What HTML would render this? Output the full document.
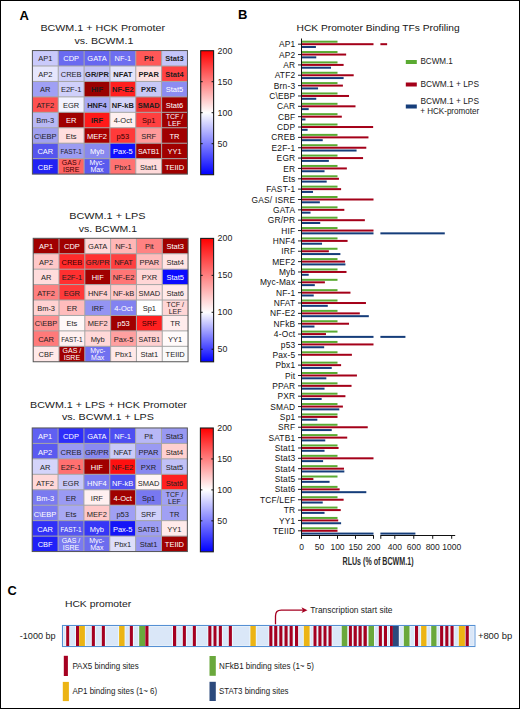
<!DOCTYPE html><html><head><meta charset="utf-8"><style>html,body{margin:0;padding:0;background:#fff;}svg{display:block;}text{font-family:"Liberation Sans", sans-serif;}</style></head><body>
<svg width="520" height="709" viewBox="0 0 520 709">
<defs>
<linearGradient id="g1" x1="0" y1="0" x2="0" y2="1">
<stop offset="0.000" stop-color="rgb(255,0,0)"/>
<stop offset="0.100" stop-color="rgb(255,51,51)"/>
<stop offset="0.200" stop-color="rgb(255,102,102)"/>
<stop offset="0.300" stop-color="rgb(255,153,153)"/>
<stop offset="0.400" stop-color="rgb(255,204,204)"/>
<stop offset="0.500" stop-color="rgb(255,255,255)"/>
<stop offset="0.600" stop-color="rgb(204,204,255)"/>
<stop offset="0.700" stop-color="rgb(153,153,255)"/>
<stop offset="0.800" stop-color="rgb(102,102,255)"/>
<stop offset="0.900" stop-color="rgb(51,51,255)"/>
<stop offset="1.000" stop-color="rgb(0,0,255)"/>
</linearGradient>
<linearGradient id="g2" x1="0" y1="0" x2="0" y2="1">
<stop offset="0.000" stop-color="rgb(255,0,0)"/>
<stop offset="0.100" stop-color="rgb(255,43,43)"/>
<stop offset="0.200" stop-color="rgb(255,85,85)"/>
<stop offset="0.300" stop-color="rgb(255,128,128)"/>
<stop offset="0.400" stop-color="rgb(255,170,170)"/>
<stop offset="0.500" stop-color="rgb(255,213,213)"/>
<stop offset="0.600" stop-color="rgb(254,254,255)"/>
<stop offset="0.700" stop-color="rgb(191,191,255)"/>
<stop offset="0.800" stop-color="rgb(127,127,255)"/>
<stop offset="0.900" stop-color="rgb(64,64,255)"/>
<stop offset="1.000" stop-color="rgb(0,0,255)"/>
</linearGradient>
<linearGradient id="g3" x1="0" y1="0" x2="0" y2="1">
<stop offset="0.000" stop-color="rgb(255,0,0)"/>
<stop offset="0.100" stop-color="rgb(255,51,51)"/>
<stop offset="0.200" stop-color="rgb(255,102,102)"/>
<stop offset="0.300" stop-color="rgb(255,153,153)"/>
<stop offset="0.400" stop-color="rgb(255,204,204)"/>
<stop offset="0.500" stop-color="rgb(255,255,255)"/>
<stop offset="0.600" stop-color="rgb(204,204,255)"/>
<stop offset="0.700" stop-color="rgb(153,153,255)"/>
<stop offset="0.800" stop-color="rgb(102,102,255)"/>
<stop offset="0.900" stop-color="rgb(51,51,255)"/>
<stop offset="1.000" stop-color="rgb(0,0,255)"/>
</linearGradient>
</defs>
<rect x="0" y="0" width="520" height="709" fill="#fff"/>
<text x="19.4" y="19.6" font-size="13" font-weight="bold" fill="#000">A</text>
<text x="237.9" y="18.7" font-size="13" font-weight="bold" fill="#000">B</text>
<text x="7.4" y="595.2" font-size="12.8" font-weight="bold" fill="#000">C</text>
<text x="40.4" y="31.0" font-size="9.3" fill="#1a1a1a" textLength="124.6" lengthAdjust="spacingAndGlyphs">BCWM.1 + HCK Promoter</text>
<text x="74.4" y="44.0" font-size="9.3" fill="#1a1a1a" textLength="58.9" lengthAdjust="spacingAndGlyphs">vs. BCWM.1</text>
<text x="69.3" y="219.0" font-size="9.3" fill="#1a1a1a" textLength="76.2" lengthAdjust="spacingAndGlyphs">BCWM.1 + LPS</text>
<text x="78.8" y="231.7" font-size="9.3" fill="#1a1a1a" textLength="58.3" lengthAdjust="spacingAndGlyphs">vs. BCWM.1</text>
<text x="30.0" y="408.1" font-size="9.3" fill="#1a1a1a" textLength="156.9" lengthAdjust="spacingAndGlyphs">BCWM.1 + LPS + HCK Promoter</text>
<text x="61.9" y="420.2" font-size="9.3" fill="#1a1a1a" textLength="92.0" lengthAdjust="spacingAndGlyphs">vs. BCWM.1 + LPS</text>
<rect x="32.40" y="50.55" width="25.89" height="15.49" fill="#cacafb"/>
<rect x="58.24" y="50.55" width="25.89" height="15.49" fill="#6a6af0"/>
<rect x="84.08" y="50.55" width="25.89" height="15.49" fill="#6666f0"/>
<rect x="109.92" y="50.55" width="25.89" height="15.49" fill="#6e6ef0"/>
<rect x="135.77" y="50.55" width="25.89" height="15.49" fill="#ff5858"/>
<rect x="161.61" y="50.55" width="25.89" height="15.49" fill="#c4c4f8"/>
<rect x="32.40" y="65.99" width="25.89" height="15.49" fill="#e6e6fc"/>
<rect x="58.24" y="65.99" width="25.89" height="15.49" fill="#cfcffa"/>
<rect x="84.08" y="65.99" width="25.89" height="15.49" fill="#c4c4f6"/>
<rect x="109.92" y="65.99" width="25.89" height="15.49" fill="#e4e4fb"/>
<rect x="135.77" y="65.99" width="25.89" height="15.49" fill="#ffe0e0"/>
<rect x="161.61" y="65.99" width="25.89" height="15.49" fill="#ff4242"/>
<rect x="32.40" y="81.44" width="25.89" height="15.49" fill="#a0a0f4"/>
<rect x="58.24" y="81.44" width="25.89" height="15.49" fill="#d0d0fa"/>
<rect x="84.08" y="81.44" width="25.89" height="15.49" fill="#990000"/>
<rect x="109.92" y="81.44" width="25.89" height="15.49" fill="#ff2020"/>
<rect x="135.77" y="81.44" width="25.89" height="15.49" fill="#c8c8f6"/>
<rect x="161.61" y="81.44" width="25.89" height="15.49" fill="#8c8cf2"/>
<rect x="32.40" y="96.88" width="25.89" height="15.49" fill="#ff5050"/>
<rect x="58.24" y="96.88" width="25.89" height="15.49" fill="#f2f2ff"/>
<rect x="84.08" y="96.88" width="25.89" height="15.49" fill="#a8a8f4"/>
<rect x="109.92" y="96.88" width="25.89" height="15.49" fill="#d4d4f8"/>
<rect x="135.77" y="96.88" width="25.89" height="15.49" fill="#f03030"/>
<rect x="161.61" y="96.88" width="25.89" height="15.49" fill="#a00000"/>
<rect x="32.40" y="112.32" width="25.89" height="15.49" fill="#b8b8f4"/>
<rect x="58.24" y="112.32" width="25.89" height="15.49" fill="#a00000"/>
<rect x="84.08" y="112.32" width="25.89" height="15.49" fill="#ff1a1a"/>
<rect x="109.92" y="112.32" width="25.89" height="15.49" fill="#fff0f0"/>
<rect x="135.77" y="112.32" width="25.89" height="15.49" fill="#ff4040"/>
<rect x="161.61" y="112.32" width="25.89" height="15.49" fill="#a00000"/>
<rect x="32.40" y="127.77" width="25.89" height="15.49" fill="#a0a0f0"/>
<rect x="58.24" y="127.77" width="25.89" height="15.49" fill="#ffdede"/>
<rect x="84.08" y="127.77" width="25.89" height="15.49" fill="#a80000"/>
<rect x="109.92" y="127.77" width="25.89" height="15.49" fill="#ff3a3a"/>
<rect x="135.77" y="127.77" width="25.89" height="15.49" fill="#ff9a9a"/>
<rect x="161.61" y="127.77" width="25.89" height="15.49" fill="#a00000"/>
<rect x="32.40" y="143.21" width="25.89" height="15.49" fill="#5555ee"/>
<rect x="58.24" y="143.21" width="25.89" height="15.49" fill="#9c9cf2"/>
<rect x="84.08" y="143.21" width="25.89" height="15.49" fill="#8888ee"/>
<rect x="109.92" y="143.21" width="25.89" height="15.49" fill="#1010ff"/>
<rect x="135.77" y="143.21" width="25.89" height="15.49" fill="#a00000"/>
<rect x="161.61" y="143.21" width="25.89" height="15.49" fill="#a00000"/>
<rect x="32.40" y="158.66" width="25.89" height="15.49" fill="#2222f4"/>
<rect x="58.24" y="158.66" width="25.89" height="15.49" fill="#ff6464"/>
<rect x="84.08" y="158.66" width="25.89" height="15.49" fill="#5a5aee"/>
<rect x="109.92" y="158.66" width="25.89" height="15.49" fill="#ff7272"/>
<rect x="135.77" y="158.66" width="25.89" height="15.49" fill="#ffdada"/>
<rect x="161.61" y="158.66" width="25.89" height="15.49" fill="#a00000"/>
<line x1="58.24" y1="50.55" x2="58.24" y2="174.1" stroke="#a4a4a4" stroke-width="1"/>
<line x1="84.08" y1="50.55" x2="84.08" y2="174.1" stroke="#a4a4a4" stroke-width="1"/>
<line x1="109.92" y1="50.55" x2="109.92" y2="174.1" stroke="#a4a4a4" stroke-width="1"/>
<line x1="135.77" y1="50.55" x2="135.77" y2="174.1" stroke="#a4a4a4" stroke-width="1"/>
<line x1="161.61" y1="50.55" x2="161.61" y2="174.1" stroke="#a4a4a4" stroke-width="1"/>
<line x1="32.4" y1="65.99" x2="187.45" y2="65.99" stroke="#a4a4a4" stroke-width="1"/>
<line x1="32.4" y1="81.44" x2="187.45" y2="81.44" stroke="#a4a4a4" stroke-width="1"/>
<line x1="32.4" y1="96.88" x2="187.45" y2="96.88" stroke="#a4a4a4" stroke-width="1"/>
<line x1="32.4" y1="112.32" x2="187.45" y2="112.32" stroke="#a4a4a4" stroke-width="1"/>
<line x1="32.4" y1="127.77" x2="187.45" y2="127.77" stroke="#a4a4a4" stroke-width="1"/>
<line x1="32.4" y1="143.21" x2="187.45" y2="143.21" stroke="#a4a4a4" stroke-width="1"/>
<line x1="32.4" y1="158.66" x2="187.45" y2="158.66" stroke="#a4a4a4" stroke-width="1"/>
<rect x="32.4" y="50.55" width="155.05" height="123.55" fill="none" stroke="#555" stroke-width="1"/>
<text x="45.32" y="61.47" fill="#1e1e1e" font-size="7.5" text-anchor="middle">AP1</text>
<text x="71.16" y="61.47" fill="#ffffff" font-size="7.5" text-anchor="middle">CDP</text>
<text x="97.00" y="61.47" fill="#ffffff" font-size="7.5" text-anchor="middle">GATA</text>
<text x="122.85" y="61.47" fill="#ffffff" font-size="7.5" text-anchor="middle">NF-1</text>
<text x="148.69" y="61.47" fill="#1e1e1e" font-size="7.5" text-anchor="middle" font-weight="bold">Pit</text>
<text x="174.53" y="61.47" fill="#1e1e1e" font-size="7.5" text-anchor="middle" font-weight="bold">Stat3</text>
<text x="45.32" y="76.92" fill="#1e1e1e" font-size="7.5" text-anchor="middle">AP2</text>
<text x="71.16" y="76.92" fill="#1e1e1e" font-size="7.5" text-anchor="middle">CREB</text>
<text x="97.00" y="76.92" fill="#1e1e1e" font-size="7.5" text-anchor="middle" font-weight="bold">GR/PR</text>
<text x="122.85" y="76.92" fill="#1e1e1e" font-size="7.5" text-anchor="middle" font-weight="bold">NFAT</text>
<text x="148.69" y="76.92" fill="#1e1e1e" font-size="7.5" text-anchor="middle" font-weight="bold">PPAR</text>
<text x="174.53" y="76.92" fill="#1e1e1e" font-size="7.5" text-anchor="middle" font-weight="bold">Stat4</text>
<text x="45.32" y="92.36" fill="#1e1e1e" font-size="7.5" text-anchor="middle">AR</text>
<text x="71.16" y="92.36" fill="#1e1e1e" font-size="7.5" text-anchor="middle">E2F-1</text>
<text x="97.00" y="92.36" fill="#1e1e1e" font-size="7.5" text-anchor="middle" font-weight="bold">HIF</text>
<text x="122.85" y="92.36" fill="#1e1e1e" font-size="7.5" text-anchor="middle" font-weight="bold">NF-E2</text>
<text x="148.69" y="92.36" fill="#1e1e1e" font-size="7.5" text-anchor="middle" font-weight="bold">PXR</text>
<text x="174.53" y="92.36" fill="#ffffff" font-size="7.5" text-anchor="middle">Stat5</text>
<text x="45.32" y="107.80" fill="#1e1e1e" font-size="7.5" text-anchor="middle">ATF2</text>
<text x="71.16" y="107.80" fill="#1e1e1e" font-size="7.5" text-anchor="middle">EGR</text>
<text x="97.00" y="107.80" fill="#1e1e1e" font-size="7.5" text-anchor="middle" font-weight="bold">HNF4</text>
<text x="122.85" y="107.80" fill="#1e1e1e" font-size="7.5" text-anchor="middle" font-weight="bold">NF-kB</text>
<text x="148.69" y="107.80" fill="#1e1e1e" font-size="7.5" text-anchor="middle" font-weight="bold">SMAD</text>
<text x="174.53" y="107.80" fill="#ffffff" font-size="7.5" text-anchor="middle">Stat6</text>
<text x="45.32" y="123.25" fill="#1e1e1e" font-size="7.5" text-anchor="middle">Bm-3</text>
<text x="71.16" y="123.25" fill="#ffffff" font-size="7.5" text-anchor="middle">ER</text>
<text x="97.00" y="123.25" fill="#1e1e1e" font-size="7.5" text-anchor="middle" font-weight="bold">IRF</text>
<text x="122.85" y="123.25" fill="#1e1e1e" font-size="7.5" text-anchor="middle">4-Oct</text>
<text x="148.69" y="123.25" fill="#3a0000" font-size="7.5" text-anchor="middle">Sp1</text>
<text x="174.53" y="119.05" fill="#ffffff" font-size="7" text-anchor="middle">TCF / </text>
<text x="174.53" y="126.05" fill="#ffffff" font-size="7" text-anchor="middle">LEF</text>
<text x="45.32" y="138.69" fill="#1e1e1e" font-size="7.5" text-anchor="middle">C\EBP</text>
<text x="71.16" y="138.69" fill="#1e1e1e" font-size="7.5" text-anchor="middle">Ets</text>
<text x="97.00" y="138.69" fill="#ffffff" font-size="7.5" text-anchor="middle">MEF2</text>
<text x="122.85" y="138.69" fill="#3a0000" font-size="7.5" text-anchor="middle">p53</text>
<text x="148.69" y="138.69" fill="#1e1e1e" font-size="7.5" text-anchor="middle">SRF</text>
<text x="174.53" y="138.69" fill="#ffffff" font-size="7.5" text-anchor="middle">TR</text>
<text x="45.32" y="154.13" fill="#ffffff" font-size="7.5" text-anchor="middle">CAR</text>
<text x="71.16" y="154.13" fill="#1e1e1e" font-size="7.5" text-anchor="middle" textLength="21.2" lengthAdjust="spacingAndGlyphs">FAST-1</text>
<text x="97.00" y="154.13" fill="#ffffff" font-size="7.5" text-anchor="middle">Myb</text>
<text x="122.85" y="154.13" fill="#ffffff" font-size="7.5" text-anchor="middle">Pax-5</text>
<text x="148.69" y="154.13" fill="#ffffff" font-size="7.5" text-anchor="middle" textLength="21.6" lengthAdjust="spacingAndGlyphs">SATB1</text>
<text x="174.53" y="154.13" fill="#ffffff" font-size="7.5" text-anchor="middle">YY1</text>
<text x="45.32" y="169.58" fill="#ffffff" font-size="7.5" text-anchor="middle">CBF</text>
<text x="71.16" y="165.38" fill="#3a0000" font-size="7" text-anchor="middle">GAS / </text>
<text x="71.16" y="172.38" fill="#3a0000" font-size="7" text-anchor="middle">ISRE</text>
<text x="97.00" y="165.38" fill="#ffffff" font-size="7" text-anchor="middle">Myc-</text>
<text x="97.00" y="172.38" fill="#ffffff" font-size="7" text-anchor="middle">Max</text>
<text x="122.85" y="169.58" fill="#1e1e1e" font-size="7.5" text-anchor="middle">Pbx1</text>
<text x="148.69" y="169.58" fill="#1e1e1e" font-size="7.5" text-anchor="middle">Stat1</text>
<text x="174.53" y="169.58" fill="#ffffff" font-size="7.5" text-anchor="middle">TEIID</text>
<rect x="33.20" y="238.30" width="25.86" height="15.48" fill="#a00000"/>
<rect x="59.01" y="238.30" width="25.86" height="15.48" fill="#a00000"/>
<rect x="84.82" y="238.30" width="25.86" height="15.48" fill="#ffd8d8"/>
<rect x="110.63" y="238.30" width="25.86" height="15.48" fill="#ffb6b6"/>
<rect x="136.43" y="238.30" width="25.86" height="15.48" fill="#ff8282"/>
<rect x="162.24" y="238.30" width="25.86" height="15.48" fill="#a00000"/>
<rect x="33.20" y="253.73" width="25.86" height="15.48" fill="#ffc8c8"/>
<rect x="59.01" y="253.73" width="25.86" height="15.48" fill="#ff2a2a"/>
<rect x="84.82" y="253.73" width="25.86" height="15.48" fill="#ff3030"/>
<rect x="110.63" y="253.73" width="25.86" height="15.48" fill="#ff4040"/>
<rect x="136.43" y="253.73" width="25.86" height="15.48" fill="#ffbcbc"/>
<rect x="162.24" y="253.73" width="25.86" height="15.48" fill="#ffe4e4"/>
<rect x="33.20" y="269.16" width="25.86" height="15.48" fill="#ffdcdc"/>
<rect x="59.01" y="269.16" width="25.86" height="15.48" fill="#ff3030"/>
<rect x="84.82" y="269.16" width="25.86" height="15.48" fill="#a00000"/>
<rect x="110.63" y="269.16" width="25.86" height="15.48" fill="#ff7676"/>
<rect x="136.43" y="269.16" width="25.86" height="15.48" fill="#ffd6d6"/>
<rect x="162.24" y="269.16" width="25.86" height="15.48" fill="#0a0aff"/>
<rect x="33.20" y="284.59" width="25.86" height="15.48" fill="#ff8080"/>
<rect x="59.01" y="284.59" width="25.86" height="15.48" fill="#ff3a3a"/>
<rect x="84.82" y="284.59" width="25.86" height="15.48" fill="#ffd0d0"/>
<rect x="110.63" y="284.59" width="25.86" height="15.48" fill="#ffc8c8"/>
<rect x="136.43" y="284.59" width="25.86" height="15.48" fill="#ffe0e0"/>
<rect x="162.24" y="284.59" width="25.86" height="15.48" fill="#ffeaea"/>
<rect x="33.20" y="300.02" width="25.86" height="15.48" fill="#ffd2d2"/>
<rect x="59.01" y="300.02" width="25.86" height="15.48" fill="#ffbcbc"/>
<rect x="84.82" y="300.02" width="25.86" height="15.48" fill="#9494f2"/>
<rect x="110.63" y="300.02" width="25.86" height="15.48" fill="#8282f0"/>
<rect x="136.43" y="300.02" width="25.86" height="15.48" fill="#ffffff"/>
<rect x="162.24" y="300.02" width="25.86" height="15.48" fill="#ffd6d6"/>
<rect x="33.20" y="315.46" width="25.86" height="15.48" fill="#ff9090"/>
<rect x="59.01" y="315.46" width="25.86" height="15.48" fill="#fff8f8"/>
<rect x="84.82" y="315.46" width="25.86" height="15.48" fill="#ffc8c8"/>
<rect x="110.63" y="315.46" width="25.86" height="15.48" fill="#a00000"/>
<rect x="136.43" y="315.46" width="25.86" height="15.48" fill="#ff2020"/>
<rect x="162.24" y="315.46" width="25.86" height="15.48" fill="#ffecec"/>
<rect x="33.20" y="330.89" width="25.86" height="15.48" fill="#ff7a7a"/>
<rect x="59.01" y="330.89" width="25.86" height="15.48" fill="#fff0f0"/>
<rect x="84.82" y="330.89" width="25.86" height="15.48" fill="#ffd8d8"/>
<rect x="110.63" y="330.89" width="25.86" height="15.48" fill="#ffa0a0"/>
<rect x="136.43" y="330.89" width="25.86" height="15.48" fill="#ffd0d0"/>
<rect x="162.24" y="330.89" width="25.86" height="15.48" fill="#fffafa"/>
<rect x="33.20" y="346.32" width="25.86" height="15.48" fill="#ffe8e8"/>
<rect x="59.01" y="346.32" width="25.86" height="15.48" fill="#a00000"/>
<rect x="84.82" y="346.32" width="25.86" height="15.48" fill="#7070f0"/>
<rect x="110.63" y="346.32" width="25.86" height="15.48" fill="#ffe8e8"/>
<rect x="136.43" y="346.32" width="25.86" height="15.48" fill="#fff4f4"/>
<rect x="162.24" y="346.32" width="25.86" height="15.48" fill="#fafafa"/>
<line x1="59.01" y1="238.3" x2="59.01" y2="361.75" stroke="#a4a4a4" stroke-width="1"/>
<line x1="84.82" y1="238.3" x2="84.82" y2="361.75" stroke="#a4a4a4" stroke-width="1"/>
<line x1="110.63" y1="238.3" x2="110.63" y2="361.75" stroke="#a4a4a4" stroke-width="1"/>
<line x1="136.43" y1="238.3" x2="136.43" y2="361.75" stroke="#a4a4a4" stroke-width="1"/>
<line x1="162.24" y1="238.3" x2="162.24" y2="361.75" stroke="#a4a4a4" stroke-width="1"/>
<line x1="33.2" y1="253.73" x2="188.05" y2="253.73" stroke="#a4a4a4" stroke-width="1"/>
<line x1="33.2" y1="269.16" x2="188.05" y2="269.16" stroke="#a4a4a4" stroke-width="1"/>
<line x1="33.2" y1="284.59" x2="188.05" y2="284.59" stroke="#a4a4a4" stroke-width="1"/>
<line x1="33.2" y1="300.02" x2="188.05" y2="300.02" stroke="#a4a4a4" stroke-width="1"/>
<line x1="33.2" y1="315.46" x2="188.05" y2="315.46" stroke="#a4a4a4" stroke-width="1"/>
<line x1="33.2" y1="330.89" x2="188.05" y2="330.89" stroke="#a4a4a4" stroke-width="1"/>
<line x1="33.2" y1="346.32" x2="188.05" y2="346.32" stroke="#a4a4a4" stroke-width="1"/>
<rect x="33.2" y="238.3" width="154.85" height="123.45" fill="none" stroke="#555" stroke-width="1"/>
<text x="46.10" y="249.32" fill="#ffffff" font-size="7.5" text-anchor="middle">AP1</text>
<text x="71.91" y="249.32" fill="#ffffff" font-size="7.5" text-anchor="middle">CDP</text>
<text x="97.72" y="249.32" fill="#1e1e1e" font-size="7.5" text-anchor="middle">GATA</text>
<text x="123.53" y="249.32" fill="#1e1e1e" font-size="7.5" text-anchor="middle">NF-1</text>
<text x="149.34" y="249.32" fill="#1e1e1e" font-size="7.5" text-anchor="middle">Pit</text>
<text x="175.15" y="249.32" fill="#ffffff" font-size="7.5" text-anchor="middle">Stat3</text>
<text x="46.10" y="264.75" fill="#1e1e1e" font-size="7.5" text-anchor="middle">AP2</text>
<text x="71.91" y="264.75" fill="#3a0000" font-size="7.5" text-anchor="middle">CREB</text>
<text x="97.72" y="264.75" fill="#1e1e1e" font-size="7.5" text-anchor="middle">GR/PR</text>
<text x="123.53" y="264.75" fill="#1e1e1e" font-size="7.5" text-anchor="middle">NFAT</text>
<text x="149.34" y="264.75" fill="#1e1e1e" font-size="7.5" text-anchor="middle">PPAR</text>
<text x="175.15" y="264.75" fill="#1e1e1e" font-size="7.5" text-anchor="middle">Stat4</text>
<text x="46.10" y="280.18" fill="#1e1e1e" font-size="7.5" text-anchor="middle">AR</text>
<text x="71.91" y="280.18" fill="#1e1e1e" font-size="7.5" text-anchor="middle">E2F-1</text>
<text x="97.72" y="280.18" fill="#ffffff" font-size="7.5" text-anchor="middle">HIF</text>
<text x="123.53" y="280.18" fill="#1e1e1e" font-size="7.5" text-anchor="middle">NF-E2</text>
<text x="149.34" y="280.18" fill="#1e1e1e" font-size="7.5" text-anchor="middle">PXR</text>
<text x="175.15" y="280.18" fill="#ffffff" font-size="7.5" text-anchor="middle">Stat5</text>
<text x="46.10" y="295.61" fill="#1e1e1e" font-size="7.5" text-anchor="middle">ATF2</text>
<text x="71.91" y="295.61" fill="#1e1e1e" font-size="7.5" text-anchor="middle">EGR</text>
<text x="97.72" y="295.61" fill="#1e1e1e" font-size="7.5" text-anchor="middle">HNF4</text>
<text x="123.53" y="295.61" fill="#1e1e1e" font-size="7.5" text-anchor="middle">NF-kB</text>
<text x="149.34" y="295.61" fill="#1e1e1e" font-size="7.5" text-anchor="middle">SMAD</text>
<text x="175.15" y="295.61" fill="#1e1e1e" font-size="7.5" text-anchor="middle">Stat6</text>
<text x="46.10" y="311.04" fill="#1e1e1e" font-size="7.5" text-anchor="middle">Bm-3</text>
<text x="71.91" y="311.04" fill="#1e1e1e" font-size="7.5" text-anchor="middle">ER</text>
<text x="97.72" y="311.04" fill="#1e1e1e" font-size="7.5" text-anchor="middle">IRF</text>
<text x="123.53" y="311.04" fill="#ffffff" font-size="7.5" text-anchor="middle">4-Oct</text>
<text x="149.34" y="311.04" fill="#1e1e1e" font-size="7.5" text-anchor="middle">Sp1</text>
<text x="175.15" y="306.84" fill="#1e1e1e" font-size="7" text-anchor="middle">TCF / </text>
<text x="175.15" y="313.84" fill="#1e1e1e" font-size="7" text-anchor="middle">LEF</text>
<text x="46.10" y="326.47" fill="#1e1e1e" font-size="7.5" text-anchor="middle">C\EBP</text>
<text x="71.91" y="326.47" fill="#1e1e1e" font-size="7.5" text-anchor="middle">Ets</text>
<text x="97.72" y="326.47" fill="#1e1e1e" font-size="7.5" text-anchor="middle">MEF2</text>
<text x="123.53" y="326.47" fill="#ffffff" font-size="7.5" text-anchor="middle">p53</text>
<text x="149.34" y="326.47" fill="#3a0000" font-size="7.5" text-anchor="middle">SRF</text>
<text x="175.15" y="326.47" fill="#1e1e1e" font-size="7.5" text-anchor="middle">TR</text>
<text x="46.10" y="341.90" fill="#1e1e1e" font-size="7.5" text-anchor="middle">CAR</text>
<text x="71.91" y="341.90" fill="#1e1e1e" font-size="7.5" text-anchor="middle" textLength="21.2" lengthAdjust="spacingAndGlyphs">FAST-1</text>
<text x="97.72" y="341.90" fill="#1e1e1e" font-size="7.5" text-anchor="middle">Myb</text>
<text x="123.53" y="341.90" fill="#1e1e1e" font-size="7.5" text-anchor="middle">Pax-5</text>
<text x="149.34" y="341.90" fill="#1e1e1e" font-size="7.5" text-anchor="middle" textLength="21.6" lengthAdjust="spacingAndGlyphs">SATB1</text>
<text x="175.15" y="341.90" fill="#1e1e1e" font-size="7.5" text-anchor="middle">YY1</text>
<text x="46.10" y="357.33" fill="#1e1e1e" font-size="7.5" text-anchor="middle">CBF</text>
<text x="71.91" y="353.13" fill="#ffffff" font-size="7" text-anchor="middle">GAS / </text>
<text x="71.91" y="360.13" fill="#ffffff" font-size="7" text-anchor="middle">ISRE</text>
<text x="97.72" y="353.13" fill="#ffffff" font-size="7" text-anchor="middle">Myc-</text>
<text x="97.72" y="360.13" fill="#ffffff" font-size="7" text-anchor="middle">Max</text>
<text x="123.53" y="357.33" fill="#1e1e1e" font-size="7.5" text-anchor="middle">Pbx1</text>
<text x="149.34" y="357.33" fill="#1e1e1e" font-size="7.5" text-anchor="middle">Stat1</text>
<text x="175.15" y="357.33" fill="#1e1e1e" font-size="7.5" text-anchor="middle">TEIID</text>
<rect x="32.20" y="427.95" width="25.91" height="15.50" fill="#6060f2"/>
<rect x="58.06" y="427.95" width="25.91" height="15.50" fill="#2e2efa"/>
<rect x="83.92" y="427.95" width="25.91" height="15.50" fill="#3e3ef4"/>
<rect x="109.77" y="427.95" width="25.91" height="15.50" fill="#4e4ef2"/>
<rect x="135.63" y="427.95" width="25.91" height="15.50" fill="#b8b8f6"/>
<rect x="161.49" y="427.95" width="25.91" height="15.50" fill="#9898f2"/>
<rect x="32.20" y="443.40" width="25.91" height="15.50" fill="#5a5af0"/>
<rect x="58.06" y="443.40" width="25.91" height="15.50" fill="#9a9af2"/>
<rect x="83.92" y="443.40" width="25.91" height="15.50" fill="#8a8af0"/>
<rect x="109.77" y="443.40" width="25.91" height="15.50" fill="#cacaf8"/>
<rect x="135.63" y="443.40" width="25.91" height="15.50" fill="#9a9af2"/>
<rect x="161.49" y="443.40" width="25.91" height="15.50" fill="#ffd0d0"/>
<rect x="32.20" y="458.85" width="25.91" height="15.50" fill="#d4d4fa"/>
<rect x="58.06" y="458.85" width="25.91" height="15.50" fill="#ff7070"/>
<rect x="83.92" y="458.85" width="25.91" height="15.50" fill="#a00000"/>
<rect x="109.77" y="458.85" width="25.91" height="15.50" fill="#ff1010"/>
<rect x="135.63" y="458.85" width="25.91" height="15.50" fill="#8888f0"/>
<rect x="161.49" y="458.85" width="25.91" height="15.50" fill="#c0c0f6"/>
<rect x="32.20" y="474.30" width="25.91" height="15.50" fill="#ffd8d8"/>
<rect x="58.06" y="474.30" width="25.91" height="15.50" fill="#c8c8f8"/>
<rect x="83.92" y="474.30" width="25.91" height="15.50" fill="#7a7af0"/>
<rect x="109.77" y="474.30" width="25.91" height="15.50" fill="#5050f0"/>
<rect x="135.63" y="474.30" width="25.91" height="15.50" fill="#fff4f4"/>
<rect x="161.49" y="474.30" width="25.91" height="15.50" fill="#ff2020"/>
<rect x="32.20" y="489.75" width="25.91" height="15.50" fill="#7a7af0"/>
<rect x="58.06" y="489.75" width="25.91" height="15.50" fill="#9a9af4"/>
<rect x="83.92" y="489.75" width="25.91" height="15.50" fill="#fff0f0"/>
<rect x="109.77" y="489.75" width="25.91" height="15.50" fill="#a00000"/>
<rect x="135.63" y="489.75" width="25.91" height="15.50" fill="#7878f0"/>
<rect x="161.49" y="489.75" width="25.91" height="15.50" fill="#a0a0f4"/>
<rect x="32.20" y="505.20" width="25.91" height="15.50" fill="#7a7af0"/>
<rect x="58.06" y="505.20" width="25.91" height="15.50" fill="#a8a8f4"/>
<rect x="83.92" y="505.20" width="25.91" height="15.50" fill="#ffc8c8"/>
<rect x="109.77" y="505.20" width="25.91" height="15.50" fill="#a0a0f4"/>
<rect x="135.63" y="505.20" width="25.91" height="15.50" fill="#d0d0fa"/>
<rect x="161.49" y="505.20" width="25.91" height="15.50" fill="#a0a0f4"/>
<rect x="32.20" y="520.65" width="25.91" height="15.50" fill="#3030f8"/>
<rect x="58.06" y="520.65" width="25.91" height="15.50" fill="#5656f0"/>
<rect x="83.92" y="520.65" width="25.91" height="15.50" fill="#3636f6"/>
<rect x="109.77" y="520.65" width="25.91" height="15.50" fill="#1414f8"/>
<rect x="135.63" y="520.65" width="25.91" height="15.50" fill="#9e9ef4"/>
<rect x="161.49" y="520.65" width="25.91" height="15.50" fill="#ffeaea"/>
<rect x="32.20" y="536.10" width="25.91" height="15.50" fill="#2020f8"/>
<rect x="58.06" y="536.10" width="25.91" height="15.50" fill="#7a7af0"/>
<rect x="83.92" y="536.10" width="25.91" height="15.50" fill="#6c6cee"/>
<rect x="109.77" y="536.10" width="25.91" height="15.50" fill="#dedefa"/>
<rect x="135.63" y="536.10" width="25.91" height="15.50" fill="#9696f2"/>
<rect x="161.49" y="536.10" width="25.91" height="15.50" fill="#a00000"/>
<line x1="58.06" y1="427.95" x2="58.06" y2="551.55" stroke="#a4a4a4" stroke-width="1"/>
<line x1="83.92" y1="427.95" x2="83.92" y2="551.55" stroke="#a4a4a4" stroke-width="1"/>
<line x1="109.77" y1="427.95" x2="109.77" y2="551.55" stroke="#a4a4a4" stroke-width="1"/>
<line x1="135.63" y1="427.95" x2="135.63" y2="551.55" stroke="#a4a4a4" stroke-width="1"/>
<line x1="161.49" y1="427.95" x2="161.49" y2="551.55" stroke="#a4a4a4" stroke-width="1"/>
<line x1="32.2" y1="443.40" x2="187.35" y2="443.40" stroke="#a4a4a4" stroke-width="1"/>
<line x1="32.2" y1="458.85" x2="187.35" y2="458.85" stroke="#a4a4a4" stroke-width="1"/>
<line x1="32.2" y1="474.30" x2="187.35" y2="474.30" stroke="#a4a4a4" stroke-width="1"/>
<line x1="32.2" y1="489.75" x2="187.35" y2="489.75" stroke="#a4a4a4" stroke-width="1"/>
<line x1="32.2" y1="505.20" x2="187.35" y2="505.20" stroke="#a4a4a4" stroke-width="1"/>
<line x1="32.2" y1="520.65" x2="187.35" y2="520.65" stroke="#a4a4a4" stroke-width="1"/>
<line x1="32.2" y1="536.10" x2="187.35" y2="536.10" stroke="#a4a4a4" stroke-width="1"/>
<rect x="32.2" y="427.95" width="155.15" height="123.60" fill="none" stroke="#555" stroke-width="1"/>
<text x="45.13" y="439.27" fill="#ffffff" font-size="7.5" text-anchor="middle">AP1</text>
<text x="70.99" y="439.27" fill="#ffffff" font-size="7.5" text-anchor="middle">CDP</text>
<text x="96.85" y="439.27" fill="#ffffff" font-size="7.5" text-anchor="middle">GATA</text>
<text x="122.70" y="439.27" fill="#ffffff" font-size="7.5" text-anchor="middle">NF-1</text>
<text x="148.56" y="439.27" fill="#1e1e1e" font-size="7.5" text-anchor="middle">Pit</text>
<text x="174.42" y="439.27" fill="#1e1e1e" font-size="7.5" text-anchor="middle">Stat3</text>
<text x="45.13" y="454.72" fill="#ffffff" font-size="7.5" text-anchor="middle">AP2</text>
<text x="70.99" y="454.72" fill="#1e1e1e" font-size="7.5" text-anchor="middle">CREB</text>
<text x="96.85" y="454.72" fill="#1e1e1e" font-size="7.5" text-anchor="middle">GR/PR</text>
<text x="122.70" y="454.72" fill="#1e1e1e" font-size="7.5" text-anchor="middle">NFAT</text>
<text x="148.56" y="454.72" fill="#1e1e1e" font-size="7.5" text-anchor="middle">PPAR</text>
<text x="174.42" y="454.72" fill="#1e1e1e" font-size="7.5" text-anchor="middle">Stat4</text>
<text x="45.13" y="470.17" fill="#1e1e1e" font-size="7.5" text-anchor="middle">AR</text>
<text x="70.99" y="470.17" fill="#1e1e1e" font-size="7.5" text-anchor="middle">E2F-1</text>
<text x="96.85" y="470.17" fill="#ffffff" font-size="7.5" text-anchor="middle">HIF</text>
<text x="122.70" y="470.17" fill="#1e1e1e" font-size="7.5" text-anchor="middle">NF-E2</text>
<text x="148.56" y="470.17" fill="#1e1e1e" font-size="7.5" text-anchor="middle">PXR</text>
<text x="174.42" y="470.17" fill="#1e1e1e" font-size="7.5" text-anchor="middle">Stat5</text>
<text x="45.13" y="485.62" fill="#1e1e1e" font-size="7.5" text-anchor="middle">ATF2</text>
<text x="70.99" y="485.62" fill="#1e1e1e" font-size="7.5" text-anchor="middle">EGR</text>
<text x="96.85" y="485.62" fill="#ffffff" font-size="7.5" text-anchor="middle">HNF4</text>
<text x="122.70" y="485.62" fill="#ffffff" font-size="7.5" text-anchor="middle">NF-kB</text>
<text x="148.56" y="485.62" fill="#1e1e1e" font-size="7.5" text-anchor="middle">SMAD</text>
<text x="174.42" y="485.62" fill="#1e1e1e" font-size="7.5" text-anchor="middle">Stat6</text>
<text x="45.13" y="501.07" fill="#ffffff" font-size="7.5" text-anchor="middle">Bm-3</text>
<text x="70.99" y="501.07" fill="#1e1e1e" font-size="7.5" text-anchor="middle">ER</text>
<text x="96.85" y="501.07" fill="#1e1e1e" font-size="7.5" text-anchor="middle">IRF</text>
<text x="122.70" y="501.07" fill="#ffffff" font-size="7.5" text-anchor="middle">4-Oct</text>
<text x="148.56" y="501.07" fill="#1e1e1e" font-size="7.5" text-anchor="middle">Sp1</text>
<text x="174.42" y="496.88" fill="#1e1e1e" font-size="7" text-anchor="middle">TCF / </text>
<text x="174.42" y="503.88" fill="#1e1e1e" font-size="7" text-anchor="middle">LEF</text>
<text x="45.13" y="516.52" fill="#ffffff" font-size="7.5" text-anchor="middle">C\EBP</text>
<text x="70.99" y="516.52" fill="#1e1e1e" font-size="7.5" text-anchor="middle">Ets</text>
<text x="96.85" y="516.52" fill="#1e1e1e" font-size="7.5" text-anchor="middle">MEF2</text>
<text x="122.70" y="516.52" fill="#1e1e1e" font-size="7.5" text-anchor="middle">p53</text>
<text x="148.56" y="516.52" fill="#1e1e1e" font-size="7.5" text-anchor="middle">SRF</text>
<text x="174.42" y="516.52" fill="#1e1e1e" font-size="7.5" text-anchor="middle">TR</text>
<text x="45.13" y="531.98" fill="#ffffff" font-size="7.5" text-anchor="middle">CAR</text>
<text x="70.99" y="531.98" fill="#ffffff" font-size="7.5" text-anchor="middle" textLength="21.2" lengthAdjust="spacingAndGlyphs">FAST-1</text>
<text x="96.85" y="531.98" fill="#ffffff" font-size="7.5" text-anchor="middle">Myb</text>
<text x="122.70" y="531.98" fill="#ffffff" font-size="7.5" text-anchor="middle">Pax-5</text>
<text x="148.56" y="531.98" fill="#1e1e1e" font-size="7.5" text-anchor="middle" textLength="21.6" lengthAdjust="spacingAndGlyphs">SATB1</text>
<text x="174.42" y="531.98" fill="#1e1e1e" font-size="7.5" text-anchor="middle">YY1</text>
<text x="45.13" y="547.42" fill="#ffffff" font-size="7.5" text-anchor="middle">CBF</text>
<text x="70.99" y="543.22" fill="#ffffff" font-size="7" text-anchor="middle">GAS / </text>
<text x="70.99" y="550.22" fill="#ffffff" font-size="7" text-anchor="middle">ISRE</text>
<text x="96.85" y="543.22" fill="#ffffff" font-size="7" text-anchor="middle">Myc-</text>
<text x="96.85" y="550.22" fill="#ffffff" font-size="7" text-anchor="middle">Max</text>
<text x="122.70" y="547.42" fill="#1e1e1e" font-size="7.5" text-anchor="middle">Pbx1</text>
<text x="148.56" y="547.42" fill="#1e1e1e" font-size="7.5" text-anchor="middle">Stat1</text>
<text x="174.42" y="547.42" fill="#ffffff" font-size="7.5" text-anchor="middle">TEIID</text>
<rect x="200.7" y="50.7" width="12.9" height="124.0" fill="url(#g1)" stroke="#1a1a1a" stroke-width="1.1"/>
<text x="217.6" y="53.70" font-size="8.8" fill="#222">200</text>
<line x1="200.7" y1="81.70" x2="202.7" y2="81.70" stroke="#111" stroke-width="1"/>
<line x1="211.6" y1="81.70" x2="213.6" y2="81.70" stroke="#111" stroke-width="1"/>
<text x="217.6" y="84.70" font-size="8.8" fill="#222">150</text>
<line x1="200.7" y1="112.70" x2="202.7" y2="112.70" stroke="#111" stroke-width="1"/>
<line x1="211.6" y1="112.70" x2="213.6" y2="112.70" stroke="#111" stroke-width="1"/>
<text x="217.6" y="115.70" font-size="8.8" fill="#222">100</text>
<line x1="200.7" y1="143.70" x2="202.7" y2="143.70" stroke="#111" stroke-width="1"/>
<line x1="211.6" y1="143.70" x2="213.6" y2="143.70" stroke="#111" stroke-width="1"/>
<text x="217.6" y="146.70" font-size="8.8" fill="#222">50</text>
<rect x="200.7" y="238.4" width="12.9" height="123.4" fill="url(#g2)" stroke="#1a1a1a" stroke-width="1.1"/>
<text x="217.6" y="241.40" font-size="8.8" fill="#222">200</text>
<line x1="200.7" y1="275.35" x2="202.7" y2="275.35" stroke="#111" stroke-width="1"/>
<line x1="211.6" y1="275.35" x2="213.6" y2="275.35" stroke="#111" stroke-width="1"/>
<text x="217.6" y="278.35" font-size="8.8" fill="#222">150</text>
<line x1="200.7" y1="312.29" x2="202.7" y2="312.29" stroke="#111" stroke-width="1"/>
<line x1="211.6" y1="312.29" x2="213.6" y2="312.29" stroke="#111" stroke-width="1"/>
<text x="217.6" y="315.29" font-size="8.8" fill="#222">100</text>
<line x1="200.7" y1="349.24" x2="202.7" y2="349.24" stroke="#111" stroke-width="1"/>
<line x1="211.6" y1="349.24" x2="213.6" y2="349.24" stroke="#111" stroke-width="1"/>
<text x="217.6" y="352.24" font-size="8.8" fill="#222">50</text>
<rect x="200.4" y="428.0" width="12.9" height="123.8" fill="url(#g3)" stroke="#1a1a1a" stroke-width="1.1"/>
<text x="217.3" y="431.00" font-size="8.8" fill="#222">200</text>
<line x1="200.4" y1="458.95" x2="202.4" y2="458.95" stroke="#111" stroke-width="1"/>
<line x1="211.3" y1="458.95" x2="213.3" y2="458.95" stroke="#111" stroke-width="1"/>
<text x="217.3" y="461.95" font-size="8.8" fill="#222">150</text>
<line x1="200.4" y1="489.90" x2="202.4" y2="489.90" stroke="#111" stroke-width="1"/>
<line x1="211.3" y1="489.90" x2="213.3" y2="489.90" stroke="#111" stroke-width="1"/>
<text x="217.3" y="492.90" font-size="8.8" fill="#222">100</text>
<line x1="200.4" y1="520.85" x2="202.4" y2="520.85" stroke="#111" stroke-width="1"/>
<line x1="211.3" y1="520.85" x2="213.3" y2="520.85" stroke="#111" stroke-width="1"/>
<text x="217.3" y="523.85" font-size="8.8" fill="#222">50</text>
<rect x="301.5" y="40.70" width="36.00" height="2" fill="#5aaa32"/>
<rect x="301.5" y="43.20" width="72.00" height="2" fill="#a40019"/>
<rect x="380.4" y="43.20" width="6.72" height="2" fill="#a40019"/>
<rect x="301.5" y="46.00" width="14.40" height="2" fill="#153d7a"/>
<line x1="298" y1="44.20" x2="301.5" y2="44.20" stroke="#111" stroke-width="0.9"/>
<text x="295.4" y="47.30" font-size="8.4" fill="#111" text-anchor="end" letter-spacing="0.22">AP1</text>
<rect x="301.5" y="51.05" width="36.00" height="2" fill="#5aaa32"/>
<rect x="301.5" y="53.55" width="44.64" height="2" fill="#a40019"/>
<rect x="301.5" y="56.35" width="14.76" height="2" fill="#153d7a"/>
<line x1="298" y1="54.55" x2="301.5" y2="54.55" stroke="#111" stroke-width="0.9"/>
<text x="295.4" y="57.65" font-size="8.4" fill="#111" text-anchor="end" letter-spacing="0.22">AP2</text>
<rect x="301.5" y="61.41" width="36.00" height="2" fill="#5aaa32"/>
<rect x="301.5" y="63.91" width="42.12" height="2" fill="#a40019"/>
<rect x="301.5" y="66.71" width="29.52" height="2" fill="#153d7a"/>
<line x1="298" y1="64.91" x2="301.5" y2="64.91" stroke="#111" stroke-width="0.9"/>
<text x="295.4" y="68.01" font-size="8.4" fill="#111" text-anchor="end" letter-spacing="0.22">AR</text>
<rect x="301.5" y="71.76" width="36.00" height="2" fill="#5aaa32"/>
<rect x="301.5" y="74.26" width="52.20" height="2" fill="#a40019"/>
<rect x="301.5" y="77.06" width="42.12" height="2" fill="#153d7a"/>
<line x1="298" y1="75.26" x2="301.5" y2="75.26" stroke="#111" stroke-width="0.9"/>
<text x="295.4" y="78.36" font-size="8.4" fill="#111" text-anchor="end" letter-spacing="0.22">ATF2</text>
<rect x="301.5" y="82.11" width="36.00" height="2" fill="#5aaa32"/>
<rect x="301.5" y="84.61" width="41.40" height="2" fill="#a40019"/>
<rect x="301.5" y="87.41" width="16.56" height="2" fill="#153d7a"/>
<line x1="298" y1="85.61" x2="301.5" y2="85.61" stroke="#111" stroke-width="0.9"/>
<text x="295.4" y="88.71" font-size="8.4" fill="#111" text-anchor="end" letter-spacing="0.22">Brn-3</text>
<rect x="301.5" y="92.47" width="36.00" height="2" fill="#5aaa32"/>
<rect x="301.5" y="94.97" width="47.52" height="2" fill="#a40019"/>
<rect x="301.5" y="97.77" width="14.76" height="2" fill="#153d7a"/>
<line x1="298" y1="95.97" x2="301.5" y2="95.97" stroke="#111" stroke-width="0.9"/>
<text x="295.4" y="99.06" font-size="8.4" fill="#111" text-anchor="end" letter-spacing="0.22">C\EBP</text>
<rect x="301.5" y="102.82" width="36.00" height="2" fill="#5aaa32"/>
<rect x="301.5" y="105.32" width="54.00" height="2" fill="#a40019"/>
<rect x="301.5" y="108.12" width="7.20" height="2" fill="#153d7a"/>
<line x1="298" y1="106.32" x2="301.5" y2="106.32" stroke="#111" stroke-width="0.9"/>
<text x="295.4" y="109.42" font-size="8.4" fill="#111" text-anchor="end" letter-spacing="0.22">CAR</text>
<rect x="301.5" y="113.17" width="36.00" height="2" fill="#5aaa32"/>
<rect x="301.5" y="115.67" width="40.32" height="2" fill="#a40019"/>
<rect x="301.5" y="118.47" width="3.96" height="2" fill="#153d7a"/>
<line x1="298" y1="116.67" x2="301.5" y2="116.67" stroke="#111" stroke-width="0.9"/>
<text x="295.4" y="119.77" font-size="8.4" fill="#111" text-anchor="end" letter-spacing="0.22">CBF</text>
<rect x="301.5" y="123.52" width="36.00" height="2" fill="#5aaa32"/>
<rect x="301.5" y="126.02" width="71.64" height="2" fill="#a40019"/>
<rect x="301.5" y="128.82" width="6.12" height="2" fill="#153d7a"/>
<line x1="298" y1="127.02" x2="301.5" y2="127.02" stroke="#111" stroke-width="0.9"/>
<text x="295.4" y="130.12" font-size="8.4" fill="#111" text-anchor="end" letter-spacing="0.22">CDP</text>
<rect x="301.5" y="133.88" width="36.00" height="2" fill="#5aaa32"/>
<rect x="301.5" y="136.38" width="66.96" height="2" fill="#a40019"/>
<rect x="301.5" y="139.18" width="21.24" height="2" fill="#153d7a"/>
<line x1="298" y1="137.38" x2="301.5" y2="137.38" stroke="#111" stroke-width="0.9"/>
<text x="295.4" y="140.48" font-size="8.4" fill="#111" text-anchor="end" letter-spacing="0.22">CREB</text>
<rect x="301.5" y="144.23" width="36.00" height="2" fill="#5aaa32"/>
<rect x="301.5" y="146.73" width="64.80" height="2" fill="#a40019"/>
<rect x="301.5" y="149.53" width="55.08" height="2" fill="#153d7a"/>
<line x1="298" y1="147.73" x2="301.5" y2="147.73" stroke="#111" stroke-width="0.9"/>
<text x="295.4" y="150.83" font-size="8.4" fill="#111" text-anchor="end" letter-spacing="0.22">E2F-1</text>
<rect x="301.5" y="154.58" width="36.00" height="2" fill="#5aaa32"/>
<rect x="301.5" y="157.08" width="61.56" height="2" fill="#a40019"/>
<rect x="301.5" y="159.88" width="27.36" height="2" fill="#153d7a"/>
<line x1="298" y1="158.08" x2="301.5" y2="158.08" stroke="#111" stroke-width="0.9"/>
<text x="295.4" y="161.18" font-size="8.4" fill="#111" text-anchor="end" letter-spacing="0.22">EGR</text>
<rect x="301.5" y="164.94" width="36.00" height="2" fill="#5aaa32"/>
<rect x="301.5" y="167.44" width="45.36" height="2" fill="#a40019"/>
<rect x="301.5" y="170.24" width="23.04" height="2" fill="#153d7a"/>
<line x1="298" y1="168.44" x2="301.5" y2="168.44" stroke="#111" stroke-width="0.9"/>
<text x="295.4" y="171.54" font-size="8.4" fill="#111" text-anchor="end" letter-spacing="0.22">ER</text>
<rect x="301.5" y="175.29" width="36.00" height="2" fill="#5aaa32"/>
<rect x="301.5" y="177.79" width="37.44" height="2" fill="#a40019"/>
<rect x="301.5" y="180.59" width="25.20" height="2" fill="#153d7a"/>
<line x1="298" y1="178.79" x2="301.5" y2="178.79" stroke="#111" stroke-width="0.9"/>
<text x="295.4" y="181.89" font-size="8.4" fill="#111" text-anchor="end" letter-spacing="0.22">Ets</text>
<rect x="301.5" y="185.64" width="36.00" height="2" fill="#5aaa32"/>
<rect x="301.5" y="188.14" width="39.60" height="2" fill="#a40019"/>
<rect x="301.5" y="190.94" width="11.52" height="2" fill="#153d7a"/>
<line x1="298" y1="189.14" x2="301.5" y2="189.14" stroke="#111" stroke-width="0.9"/>
<text x="295.4" y="192.24" font-size="8.4" fill="#111" text-anchor="end" letter-spacing="0.22">FAST-1</text>
<rect x="301.5" y="196.00" width="36.00" height="2" fill="#5aaa32"/>
<rect x="301.5" y="198.50" width="72.00" height="2" fill="#a40019"/>
<rect x="301.5" y="201.30" width="18.36" height="2" fill="#153d7a"/>
<line x1="298" y1="199.50" x2="301.5" y2="199.50" stroke="#111" stroke-width="0.9"/>
<text x="295.4" y="202.59" font-size="8.4" fill="#111" text-anchor="end" letter-spacing="0.22">GAS/ ISRE</text>
<rect x="301.5" y="206.35" width="36.00" height="2" fill="#5aaa32"/>
<rect x="301.5" y="208.85" width="42.84" height="2" fill="#a40019"/>
<rect x="301.5" y="211.65" width="9.00" height="2" fill="#153d7a"/>
<line x1="298" y1="209.85" x2="301.5" y2="209.85" stroke="#111" stroke-width="0.9"/>
<text x="295.4" y="212.95" font-size="8.4" fill="#111" text-anchor="end" letter-spacing="0.22">GATA</text>
<rect x="301.5" y="216.70" width="36.00" height="2" fill="#5aaa32"/>
<rect x="301.5" y="219.20" width="63.36" height="2" fill="#a40019"/>
<rect x="301.5" y="222.00" width="18.72" height="2" fill="#153d7a"/>
<line x1="298" y1="220.20" x2="301.5" y2="220.20" stroke="#111" stroke-width="0.9"/>
<text x="295.4" y="223.30" font-size="8.4" fill="#111" text-anchor="end" letter-spacing="0.22">GR/PR</text>
<rect x="301.5" y="227.05" width="36.00" height="2" fill="#5aaa32"/>
<rect x="301.5" y="229.55" width="72.00" height="2" fill="#a40019"/>
<rect x="301.5" y="232.35" width="72.00" height="2" fill="#153d7a"/>
<rect x="380.4" y="232.35" width="64.38" height="2" fill="#153d7a"/>
<line x1="298" y1="230.55" x2="301.5" y2="230.55" stroke="#111" stroke-width="0.9"/>
<text x="295.4" y="233.65" font-size="8.4" fill="#111" text-anchor="end" letter-spacing="0.22">HIF</text>
<rect x="301.5" y="237.41" width="36.00" height="2" fill="#5aaa32"/>
<rect x="301.5" y="239.91" width="46.08" height="2" fill="#a40019"/>
<rect x="301.5" y="242.71" width="20.52" height="2" fill="#153d7a"/>
<line x1="298" y1="240.91" x2="301.5" y2="240.91" stroke="#111" stroke-width="0.9"/>
<text x="295.4" y="244.01" font-size="8.4" fill="#111" text-anchor="end" letter-spacing="0.22">HNF4</text>
<rect x="301.5" y="247.76" width="36.00" height="2" fill="#5aaa32"/>
<rect x="301.5" y="250.26" width="27.36" height="2" fill="#a40019"/>
<rect x="301.5" y="253.06" width="38.88" height="2" fill="#153d7a"/>
<line x1="298" y1="251.26" x2="301.5" y2="251.26" stroke="#111" stroke-width="0.9"/>
<text x="295.4" y="254.36" font-size="8.4" fill="#111" text-anchor="end" letter-spacing="0.22">IRF</text>
<rect x="301.5" y="258.11" width="36.00" height="2" fill="#5aaa32"/>
<rect x="301.5" y="260.61" width="43.56" height="2" fill="#a40019"/>
<rect x="301.5" y="263.41" width="43.92" height="2" fill="#153d7a"/>
<line x1="298" y1="261.61" x2="301.5" y2="261.61" stroke="#111" stroke-width="0.9"/>
<text x="295.4" y="264.71" font-size="8.4" fill="#111" text-anchor="end" letter-spacing="0.22">MEF2</text>
<rect x="301.5" y="268.47" width="36.00" height="2" fill="#5aaa32"/>
<rect x="301.5" y="270.97" width="45.00" height="2" fill="#a40019"/>
<rect x="301.5" y="273.77" width="7.20" height="2" fill="#153d7a"/>
<line x1="298" y1="271.97" x2="301.5" y2="271.97" stroke="#111" stroke-width="0.9"/>
<text x="295.4" y="275.07" font-size="8.4" fill="#111" text-anchor="end" letter-spacing="0.22">Myb</text>
<rect x="301.5" y="278.82" width="36.00" height="2" fill="#5aaa32"/>
<rect x="301.5" y="281.32" width="23.40" height="2" fill="#a40019"/>
<rect x="301.5" y="284.12" width="13.32" height="2" fill="#153d7a"/>
<line x1="298" y1="282.32" x2="301.5" y2="282.32" stroke="#111" stroke-width="0.9"/>
<text x="295.4" y="285.42" font-size="8.4" fill="#111" text-anchor="end" letter-spacing="0.22">Myc-Max</text>
<rect x="301.5" y="289.17" width="36.00" height="2" fill="#5aaa32"/>
<rect x="301.5" y="291.67" width="48.96" height="2" fill="#a40019"/>
<rect x="301.5" y="294.47" width="12.24" height="2" fill="#153d7a"/>
<line x1="298" y1="292.67" x2="301.5" y2="292.67" stroke="#111" stroke-width="0.9"/>
<text x="295.4" y="295.77" font-size="8.4" fill="#111" text-anchor="end" letter-spacing="0.22">NF-1</text>
<rect x="301.5" y="299.52" width="36.00" height="2" fill="#5aaa32"/>
<rect x="301.5" y="302.02" width="64.44" height="2" fill="#a40019"/>
<rect x="301.5" y="304.82" width="26.28" height="2" fill="#153d7a"/>
<line x1="298" y1="303.02" x2="301.5" y2="303.02" stroke="#111" stroke-width="0.9"/>
<text x="295.4" y="306.12" font-size="8.4" fill="#111" text-anchor="end" letter-spacing="0.22">NFAT</text>
<rect x="301.5" y="309.88" width="36.00" height="2" fill="#5aaa32"/>
<rect x="301.5" y="312.38" width="58.32" height="2" fill="#a40019"/>
<rect x="301.5" y="315.18" width="67.32" height="2" fill="#153d7a"/>
<line x1="298" y1="313.38" x2="301.5" y2="313.38" stroke="#111" stroke-width="0.9"/>
<text x="295.4" y="316.48" font-size="8.4" fill="#111" text-anchor="end" letter-spacing="0.22">NF-E2</text>
<rect x="301.5" y="320.23" width="36.00" height="2" fill="#5aaa32"/>
<rect x="301.5" y="322.73" width="47.52" height="2" fill="#a40019"/>
<rect x="301.5" y="325.53" width="12.96" height="2" fill="#153d7a"/>
<line x1="298" y1="323.73" x2="301.5" y2="323.73" stroke="#111" stroke-width="0.9"/>
<text x="295.4" y="326.83" font-size="8.4" fill="#111" text-anchor="end" letter-spacing="0.22">NFkB</text>
<rect x="301.5" y="330.58" width="36.00" height="2" fill="#5aaa32"/>
<rect x="301.5" y="333.08" width="24.48" height="2" fill="#a40019"/>
<rect x="301.5" y="335.88" width="72.00" height="2" fill="#153d7a"/>
<rect x="380.4" y="335.88" width="25.02" height="2" fill="#153d7a"/>
<line x1="298" y1="334.08" x2="301.5" y2="334.08" stroke="#111" stroke-width="0.9"/>
<text x="295.4" y="337.18" font-size="8.4" fill="#111" text-anchor="end" letter-spacing="0.22">4-Oct</text>
<rect x="301.5" y="340.94" width="36.00" height="2" fill="#5aaa32"/>
<rect x="301.5" y="343.44" width="72.00" height="2" fill="#a40019"/>
<rect x="301.5" y="346.24" width="22.68" height="2" fill="#153d7a"/>
<line x1="298" y1="344.44" x2="301.5" y2="344.44" stroke="#111" stroke-width="0.9"/>
<text x="295.4" y="347.54" font-size="8.4" fill="#111" text-anchor="end" letter-spacing="0.22">p53</text>
<rect x="301.5" y="351.29" width="36.00" height="2" fill="#5aaa32"/>
<rect x="301.5" y="353.79" width="50.40" height="2" fill="#a40019"/>
<line x1="298" y1="354.79" x2="301.5" y2="354.79" stroke="#111" stroke-width="0.9"/>
<text x="295.4" y="357.89" font-size="8.4" fill="#111" text-anchor="end" letter-spacing="0.22">Pax-5</text>
<rect x="301.5" y="361.64" width="36.00" height="2" fill="#5aaa32"/>
<rect x="301.5" y="364.14" width="39.60" height="2" fill="#a40019"/>
<rect x="301.5" y="366.94" width="30.24" height="2" fill="#153d7a"/>
<line x1="298" y1="365.14" x2="301.5" y2="365.14" stroke="#111" stroke-width="0.9"/>
<text x="295.4" y="368.24" font-size="8.4" fill="#111" text-anchor="end" letter-spacing="0.22">Pbx1</text>
<rect x="301.5" y="372.00" width="36.00" height="2" fill="#5aaa32"/>
<rect x="301.5" y="374.50" width="55.44" height="2" fill="#a40019"/>
<rect x="301.5" y="377.30" width="24.84" height="2" fill="#153d7a"/>
<line x1="298" y1="375.50" x2="301.5" y2="375.50" stroke="#111" stroke-width="0.9"/>
<text x="295.4" y="378.60" font-size="8.4" fill="#111" text-anchor="end" letter-spacing="0.22">Pit</text>
<rect x="301.5" y="382.35" width="36.00" height="2" fill="#5aaa32"/>
<rect x="301.5" y="384.85" width="50.04" height="2" fill="#a40019"/>
<rect x="301.5" y="387.65" width="23.04" height="2" fill="#153d7a"/>
<line x1="298" y1="385.85" x2="301.5" y2="385.85" stroke="#111" stroke-width="0.9"/>
<text x="295.4" y="388.95" font-size="8.4" fill="#111" text-anchor="end" letter-spacing="0.22">PPAR</text>
<rect x="301.5" y="392.70" width="36.00" height="2" fill="#5aaa32"/>
<rect x="301.5" y="395.20" width="43.92" height="2" fill="#a40019"/>
<rect x="301.5" y="398.00" width="20.16" height="2" fill="#153d7a"/>
<line x1="298" y1="396.20" x2="301.5" y2="396.20" stroke="#111" stroke-width="0.9"/>
<text x="295.4" y="399.30" font-size="8.4" fill="#111" text-anchor="end" letter-spacing="0.22">PXR</text>
<rect x="301.5" y="403.06" width="36.00" height="2" fill="#5aaa32"/>
<rect x="301.5" y="405.56" width="41.40" height="2" fill="#a40019"/>
<rect x="301.5" y="408.36" width="37.80" height="2" fill="#153d7a"/>
<line x1="298" y1="406.56" x2="301.5" y2="406.56" stroke="#111" stroke-width="0.9"/>
<text x="295.4" y="409.66" font-size="8.4" fill="#111" text-anchor="end" letter-spacing="0.22">SMAD</text>
<rect x="301.5" y="413.41" width="36.00" height="2" fill="#5aaa32"/>
<rect x="301.5" y="415.91" width="36.00" height="2" fill="#a40019"/>
<rect x="301.5" y="418.71" width="15.84" height="2" fill="#153d7a"/>
<line x1="298" y1="416.91" x2="301.5" y2="416.91" stroke="#111" stroke-width="0.9"/>
<text x="295.4" y="420.01" font-size="8.4" fill="#111" text-anchor="end" letter-spacing="0.22">Sp1</text>
<rect x="301.5" y="423.76" width="36.00" height="2" fill="#5aaa32"/>
<rect x="301.5" y="426.26" width="66.24" height="2" fill="#a40019"/>
<rect x="301.5" y="429.06" width="30.24" height="2" fill="#153d7a"/>
<line x1="298" y1="427.26" x2="301.5" y2="427.26" stroke="#111" stroke-width="0.9"/>
<text x="295.4" y="430.36" font-size="8.4" fill="#111" text-anchor="end" letter-spacing="0.22">SRF</text>
<rect x="301.5" y="434.11" width="36.00" height="2" fill="#5aaa32"/>
<rect x="301.5" y="436.61" width="45.72" height="2" fill="#a40019"/>
<rect x="301.5" y="439.41" width="23.76" height="2" fill="#153d7a"/>
<line x1="298" y1="437.61" x2="301.5" y2="437.61" stroke="#111" stroke-width="0.9"/>
<text x="295.4" y="440.71" font-size="8.4" fill="#111" text-anchor="end" letter-spacing="0.22">SATB1</text>
<rect x="301.5" y="444.47" width="36.00" height="2" fill="#5aaa32"/>
<rect x="301.5" y="446.97" width="37.08" height="2" fill="#a40019"/>
<rect x="301.5" y="449.77" width="23.04" height="2" fill="#153d7a"/>
<line x1="298" y1="447.97" x2="301.5" y2="447.97" stroke="#111" stroke-width="0.9"/>
<text x="295.4" y="451.07" font-size="8.4" fill="#111" text-anchor="end" letter-spacing="0.22">Stat1</text>
<rect x="301.5" y="454.82" width="36.00" height="2" fill="#5aaa32"/>
<rect x="301.5" y="457.32" width="72.00" height="2" fill="#a40019"/>
<rect x="301.5" y="460.12" width="21.60" height="2" fill="#153d7a"/>
<line x1="298" y1="458.32" x2="301.5" y2="458.32" stroke="#111" stroke-width="0.9"/>
<text x="295.4" y="461.42" font-size="8.4" fill="#111" text-anchor="end" letter-spacing="0.22">Stat3</text>
<rect x="301.5" y="465.17" width="36.00" height="2" fill="#5aaa32"/>
<rect x="301.5" y="467.67" width="42.48" height="2" fill="#a40019"/>
<rect x="301.5" y="470.47" width="42.84" height="2" fill="#153d7a"/>
<line x1="298" y1="468.67" x2="301.5" y2="468.67" stroke="#111" stroke-width="0.9"/>
<text x="295.4" y="471.77" font-size="8.4" fill="#111" text-anchor="end" letter-spacing="0.22">Stat4</text>
<rect x="301.5" y="475.53" width="36.00" height="2" fill="#5aaa32"/>
<rect x="301.5" y="478.03" width="11.88" height="2" fill="#a40019"/>
<rect x="301.5" y="480.83" width="28.08" height="2" fill="#153d7a"/>
<line x1="298" y1="479.03" x2="301.5" y2="479.03" stroke="#111" stroke-width="0.9"/>
<text x="295.4" y="482.13" font-size="8.4" fill="#111" text-anchor="end" letter-spacing="0.22">Stat5</text>
<rect x="301.5" y="485.88" width="36.00" height="2" fill="#5aaa32"/>
<rect x="301.5" y="488.38" width="38.16" height="2" fill="#a40019"/>
<rect x="301.5" y="491.18" width="64.80" height="2" fill="#153d7a"/>
<line x1="298" y1="489.38" x2="301.5" y2="489.38" stroke="#111" stroke-width="0.9"/>
<text x="295.4" y="492.48" font-size="8.4" fill="#111" text-anchor="end" letter-spacing="0.22">Stat6</text>
<rect x="301.5" y="496.23" width="36.00" height="2" fill="#5aaa32"/>
<rect x="301.5" y="498.73" width="42.12" height="2" fill="#a40019"/>
<rect x="301.5" y="501.53" width="21.24" height="2" fill="#153d7a"/>
<line x1="298" y1="499.73" x2="301.5" y2="499.73" stroke="#111" stroke-width="0.9"/>
<text x="295.4" y="502.83" font-size="8.4" fill="#111" text-anchor="end" letter-spacing="0.22">TCF/LEF</text>
<rect x="301.5" y="506.58" width="36.00" height="2" fill="#5aaa32"/>
<rect x="301.5" y="509.08" width="39.24" height="2" fill="#a40019"/>
<rect x="301.5" y="511.88" width="23.04" height="2" fill="#153d7a"/>
<line x1="298" y1="510.08" x2="301.5" y2="510.08" stroke="#111" stroke-width="0.9"/>
<text x="295.4" y="513.18" font-size="8.4" fill="#111" text-anchor="end" letter-spacing="0.22">TR</text>
<rect x="301.5" y="516.94" width="36.00" height="2" fill="#5aaa32"/>
<rect x="301.5" y="519.44" width="36.72" height="2" fill="#a40019"/>
<rect x="301.5" y="522.24" width="39.60" height="2" fill="#153d7a"/>
<line x1="298" y1="520.44" x2="301.5" y2="520.44" stroke="#111" stroke-width="0.9"/>
<text x="295.4" y="523.54" font-size="8.4" fill="#111" text-anchor="end" letter-spacing="0.22">YY1</text>
<rect x="301.5" y="527.29" width="36.00" height="2" fill="#5aaa32"/>
<rect x="301.5" y="529.79" width="36.00" height="2" fill="#a40019"/>
<rect x="301.5" y="532.59" width="72.00" height="2" fill="#153d7a"/>
<rect x="380.4" y="532.59" width="34.98" height="2" fill="#153d7a"/>
<line x1="298" y1="530.79" x2="301.5" y2="530.79" stroke="#111" stroke-width="0.9"/>
<text x="295.4" y="533.89" font-size="8.4" fill="#111" text-anchor="end" letter-spacing="0.22">TEIID</text>
<line x1="301.5" y1="38.5" x2="301.5" y2="536" stroke="#111" stroke-width="1"/>
<line x1="301.0" y1="535.5" x2="373.8" y2="535.5" stroke="#111" stroke-width="1"/>
<line x1="380.4" y1="535.5" x2="455.2" y2="535.5" stroke="#111" stroke-width="1"/>
<line x1="301.50" y1="535.5" x2="301.50" y2="538.8" stroke="#111" stroke-width="1"/>
<text x="301.50" y="550.2" font-size="8.5" fill="#222" text-anchor="middle">0</text>
<line x1="319.50" y1="535.5" x2="319.50" y2="538.8" stroke="#111" stroke-width="1"/>
<text x="319.50" y="550.2" font-size="8.5" fill="#222" text-anchor="middle">50</text>
<line x1="337.50" y1="535.5" x2="337.50" y2="538.8" stroke="#111" stroke-width="1"/>
<text x="337.50" y="550.2" font-size="8.5" fill="#222" text-anchor="middle">100</text>
<line x1="355.50" y1="535.5" x2="355.50" y2="538.8" stroke="#111" stroke-width="1"/>
<text x="355.50" y="550.2" font-size="8.5" fill="#222" text-anchor="middle">150</text>
<line x1="373.50" y1="535.5" x2="373.50" y2="538.8" stroke="#111" stroke-width="1"/>
<text x="373.50" y="550.2" font-size="8.5" fill="#222" text-anchor="middle">200</text>
<line x1="380.79999999999995" y1="535.5" x2="380.79999999999995" y2="538.8" stroke="#111" stroke-width="1"/>
<line x1="394.80" y1="535.5" x2="394.80" y2="538.8" stroke="#111" stroke-width="1"/>
<text x="394.80" y="550.2" font-size="8.5" fill="#222" text-anchor="middle">400</text>
<line x1="413.77" y1="535.5" x2="413.77" y2="538.8" stroke="#111" stroke-width="1"/>
<text x="413.77" y="550.2" font-size="8.5" fill="#222" text-anchor="middle">600</text>
<line x1="432.73" y1="535.5" x2="432.73" y2="538.8" stroke="#111" stroke-width="1"/>
<text x="432.73" y="550.2" font-size="8.5" fill="#222" text-anchor="middle">800</text>
<line x1="451.70" y1="535.5" x2="451.70" y2="538.8" stroke="#111" stroke-width="1"/>
<text x="451.70" y="550.2" font-size="8.5" fill="#222" text-anchor="middle">1000</text>
<text x="342.5" y="565" font-size="10.4" font-weight="bold" fill="#2a2a2a" textLength="71" lengthAdjust="spacingAndGlyphs">RLUs (% of BCWM.1)</text>
<text x="296.6" y="31.4" font-size="9.8" fill="#151515" textLength="163" lengthAdjust="spacingAndGlyphs">HCK Promoter Binding TFs Profiling</text>
<rect x="405.8" y="60" width="11" height="4" fill="#5aaa32"/>
<text x="420.4" y="64.2" font-size="8.2" fill="#1a1a1a" textLength="32.4" lengthAdjust="spacingAndGlyphs">BCWM.1</text>
<rect x="405.8" y="82.5" width="11" height="4" fill="#a40019"/>
<text x="420.4" y="86.5" font-size="8.2" fill="#1a1a1a" textLength="58.6" lengthAdjust="spacingAndGlyphs">BCWM.1 + LPS</text>
<rect x="405.8" y="104.5" width="11" height="4" fill="#153d7a"/>
<text x="420.4" y="104.4" font-size="8.2" fill="#1a1a1a" textLength="58.6" lengthAdjust="spacingAndGlyphs">BCWM.1 + LPS</text>
<text x="420.2" y="114.0" font-size="8.2" fill="#1a1a1a" textLength="59" lengthAdjust="spacingAndGlyphs">+ HCK-promoter</text>
<text x="64.9" y="607.3" font-size="9.8" fill="#222" textLength="66.3" lengthAdjust="spacingAndGlyphs">HCK promoter</text>
<text x="19.8" y="638.6" font-size="8.5" fill="#222" textLength="35.8" lengthAdjust="spacingAndGlyphs">-1000 bp</text>
<text x="477.9" y="638.6" font-size="8.5" fill="#1a1a1a" textLength="34.3" lengthAdjust="spacingAndGlyphs">+800 bp</text>
<rect x="62.5" y="625.5" width="412.4" height="21" fill="#dae7f8" stroke="#5590d4" stroke-width="1.1"/>
<rect x="63.4" y="626.4" width="410.6" height="19.2" fill="none" stroke="#eaf2fb" stroke-width="0.8"/>
<rect x="65.30" y="626" width="4.80" height="20" fill="#eefaff"/>
<rect x="75.10" y="626" width="4.90" height="20" fill="#eefaff"/>
<rect x="78.30" y="626" width="7.50" height="20" fill="#eefaff"/>
<rect x="90.90" y="626" width="4.90" height="20" fill="#eefaff"/>
<rect x="100.90" y="626" width="4.90" height="20" fill="#eefaff"/>
<rect x="118.20" y="626" width="7.30" height="20" fill="#eefaff"/>
<rect x="128.90" y="626" width="4.90" height="20" fill="#eefaff"/>
<rect x="138.30" y="626" width="7.60" height="20" fill="#eefaff"/>
<rect x="144.40" y="626" width="5.00" height="20" fill="#eefaff"/>
<rect x="172.10" y="626" width="5.00" height="20" fill="#eefaff"/>
<rect x="181.90" y="626" width="4.90" height="20" fill="#eefaff"/>
<rect x="191.90" y="626" width="4.90" height="20" fill="#eefaff"/>
<rect x="207.40" y="626" width="4.90" height="20" fill="#eefaff"/>
<rect x="212.60" y="626" width="4.80" height="20" fill="#eefaff"/>
<rect x="217.90" y="626" width="4.90" height="20" fill="#eefaff"/>
<rect x="227.90" y="626" width="4.90" height="20" fill="#eefaff"/>
<rect x="249.50" y="626" width="7.20" height="20" fill="#eefaff"/>
<rect x="268.40" y="626" width="4.90" height="20" fill="#eefaff"/>
<rect x="273.30" y="626" width="4.90" height="20" fill="#eefaff"/>
<rect x="278.40" y="626" width="4.90" height="20" fill="#eefaff"/>
<rect x="283.60" y="626" width="4.90" height="20" fill="#eefaff"/>
<rect x="288.70" y="626" width="4.90" height="20" fill="#eefaff"/>
<rect x="294.10" y="626" width="4.90" height="20" fill="#eefaff"/>
<rect x="302.90" y="626" width="7.60" height="20" fill="#eefaff"/>
<rect x="312.60" y="626" width="4.80" height="20" fill="#eefaff"/>
<rect x="317.50" y="626" width="4.90" height="20" fill="#eefaff"/>
<rect x="322.60" y="626" width="4.80" height="20" fill="#eefaff"/>
<rect x="327.60" y="626" width="4.90" height="20" fill="#eefaff"/>
<rect x="340.80" y="626" width="7.40" height="20" fill="#eefaff"/>
<rect x="348.00" y="626" width="4.80" height="20" fill="#eefaff"/>
<rect x="352.70" y="626" width="5.00" height="20" fill="#eefaff"/>
<rect x="357.60" y="626" width="5.00" height="20" fill="#eefaff"/>
<rect x="362.60" y="626" width="5.10" height="20" fill="#eefaff"/>
<rect x="367.60" y="626" width="7.30" height="20" fill="#eefaff"/>
<rect x="377.90" y="626" width="4.90" height="20" fill="#eefaff"/>
<rect x="383.00" y="626" width="4.90" height="20" fill="#eefaff"/>
<rect x="389.10" y="626" width="4.70" height="20" fill="#eefaff"/>
<rect x="392.00" y="626" width="7.70" height="20" fill="#eefaff"/>
<rect x="402.90" y="626" width="7.50" height="20" fill="#eefaff"/>
<rect x="414.10" y="626" width="4.90" height="20" fill="#eefaff"/>
<rect x="420.20" y="626" width="7.20" height="20" fill="#eefaff"/>
<rect x="430.30" y="626" width="7.10" height="20" fill="#eefaff"/>
<rect x="439.20" y="626" width="4.90" height="20" fill="#eefaff"/>
<rect x="444.40" y="626" width="4.90" height="20" fill="#eefaff"/>
<rect x="449.60" y="626" width="4.90" height="20" fill="#eefaff"/>
<rect x="457.90" y="626" width="7.90" height="20" fill="#eefaff"/>
<rect x="464.70" y="626" width="5.00" height="20" fill="#eefaff"/>
<rect x="66.2" y="626" width="3.00" height="20" fill="#a50021"/>
<rect x="76.0" y="626" width="3.10" height="20" fill="#a50021"/>
<rect x="79.2" y="626" width="5.70" height="20" fill="#ecb414"/>
<rect x="91.8" y="626" width="3.10" height="20" fill="#a50021"/>
<rect x="101.8" y="626" width="3.10" height="20" fill="#a50021"/>
<rect x="119.1" y="626" width="5.50" height="20" fill="#ecb414"/>
<rect x="129.8" y="626" width="3.10" height="20" fill="#a50021"/>
<rect x="139.2" y="626" width="5.80" height="20" fill="#6aa83c"/>
<rect x="145.3" y="626" width="3.20" height="20" fill="#a50021"/>
<rect x="173.0" y="626" width="3.20" height="20" fill="#a50021"/>
<rect x="182.8" y="626" width="3.10" height="20" fill="#a50021"/>
<rect x="192.8" y="626" width="3.10" height="20" fill="#a50021"/>
<rect x="208.3" y="626" width="3.10" height="20" fill="#a50021"/>
<rect x="213.5" y="626" width="3.00" height="20" fill="#a50021"/>
<rect x="218.8" y="626" width="3.10" height="20" fill="#a50021"/>
<rect x="228.8" y="626" width="3.10" height="20" fill="#a50021"/>
<rect x="250.4" y="626" width="5.40" height="20" fill="#ecb414"/>
<rect x="269.3" y="626" width="3.10" height="20" fill="#a50021"/>
<rect x="274.2" y="626" width="3.10" height="20" fill="#a50021"/>
<rect x="279.3" y="626" width="3.10" height="20" fill="#a50021"/>
<rect x="284.5" y="626" width="3.10" height="20" fill="#a50021"/>
<rect x="289.6" y="626" width="3.10" height="20" fill="#a50021"/>
<rect x="295.0" y="626" width="3.10" height="20" fill="#a50021"/>
<rect x="303.8" y="626" width="5.80" height="20" fill="#ecb414"/>
<rect x="313.5" y="626" width="3.00" height="20" fill="#a50021"/>
<rect x="318.4" y="626" width="3.10" height="20" fill="#a50021"/>
<rect x="323.5" y="626" width="3.00" height="20" fill="#a50021"/>
<rect x="328.5" y="626" width="3.10" height="20" fill="#a50021"/>
<rect x="341.7" y="626" width="5.60" height="20" fill="#6aa83c"/>
<rect x="348.9" y="626" width="3.00" height="20" fill="#a50021"/>
<rect x="353.6" y="626" width="3.20" height="20" fill="#a50021"/>
<rect x="358.5" y="626" width="3.20" height="20" fill="#a50021"/>
<rect x="363.5" y="626" width="3.30" height="20" fill="#a50021"/>
<rect x="368.5" y="626" width="5.50" height="20" fill="#6aa83c"/>
<rect x="378.8" y="626" width="3.10" height="20" fill="#a50021"/>
<rect x="383.9" y="626" width="3.10" height="20" fill="#a50021"/>
<rect x="390.0" y="626" width="2.90" height="20" fill="#a50021"/>
<rect x="392.9" y="626" width="5.90" height="20" fill="#2c4a7c"/>
<rect x="403.8" y="626" width="5.70" height="20" fill="#6aa83c"/>
<rect x="415.0" y="626" width="3.10" height="20" fill="#a50021"/>
<rect x="421.1" y="626" width="5.40" height="20" fill="#ecb414"/>
<rect x="431.2" y="626" width="5.30" height="20" fill="#6aa83c"/>
<rect x="440.1" y="626" width="3.10" height="20" fill="#a50021"/>
<rect x="445.3" y="626" width="3.10" height="20" fill="#a50021"/>
<rect x="450.5" y="626" width="3.10" height="20" fill="#a50021"/>
<rect x="458.8" y="626" width="6.10" height="20" fill="#ecb414"/>
<rect x="465.6" y="626" width="3.20" height="20" fill="#a50021"/>
<path d="M275.5 624.3 L275.5 616 Q275.5 610.2 281.3 610.2 L303 610.2" fill="none" stroke="#a50021" stroke-width="1.3"/>
<path d="M307.5 610.2 L301.5 607.3 L303 610.2 L301.5 613.1 Z" fill="#a50021"/>
<text x="310.3" y="613.4" font-size="8.6" fill="#222" textLength="82.2" lengthAdjust="spacingAndGlyphs">Transcription start site</text>
<rect x="63.8" y="655.8" width="4.1" height="20.2" fill="#a50021"/>
<rect x="62.8" y="681.9" width="6.1" height="19.2" fill="#ecb414"/>
<rect x="209.5" y="656" width="6.3" height="19.8" fill="#6aa83c"/>
<rect x="209.5" y="681.8" width="6.3" height="19.2" fill="#2c4a7c"/>
<text x="72.4" y="668.8" font-size="8.2" fill="#1a1a1a" textLength="66.4" lengthAdjust="spacingAndGlyphs">PAX5 binding sites</text>
<text x="72.4" y="694.4" font-size="8.2" fill="#1a1a1a" textLength="84.8" lengthAdjust="spacingAndGlyphs">AP1 binding sites (1~ 6)</text>
<text x="219.1" y="668.8" font-size="8.2" fill="#1a1a1a" textLength="94.8" lengthAdjust="spacingAndGlyphs">NFkB1 binding sites (1~ 5)</text>
<text x="219.1" y="694.4" font-size="8.2" fill="#1a1a1a" textLength="69.4" lengthAdjust="spacingAndGlyphs">STAT3 binding sites</text>
<rect x="0.5" y="0.5" width="519" height="708" fill="none" stroke="#000" stroke-width="1"/>
</svg></body></html>
